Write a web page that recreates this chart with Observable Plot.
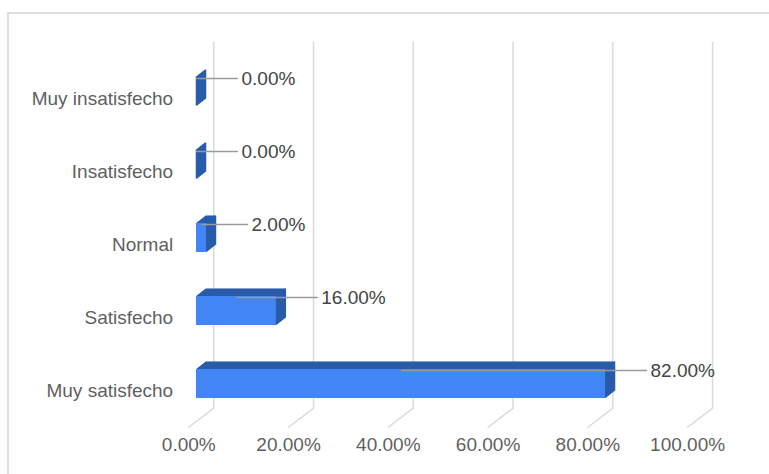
<!DOCTYPE html>
<html><head><meta charset="utf-8">
<script src="https://cdn.jsdelivr.net/npm/d3@7"></script>
<script src="https://cdn.jsdelivr.net/npm/@observablehq/plot@0.6"></script>
<style>
body{margin:0;background:#fff;}
#wrap{position:relative;width:769px;height:474px;overflow:hidden;background:#fff;}
#frame{position:absolute;left:7px;top:12px;width:800px;height:500px;border-left:2px solid #dedede;border-top:2px solid #dedede;}
#chart{position:absolute;left:0;top:0;}
</style></head><body>
<div id="wrap"><div id="frame"></div><div id="chart"></div></div>
<script>
const categories = ["Muy insatisfecho", "Insatisfecho", "Normal", "Satisfecho", "Muy satisfecho"];
const values = [0, 0, 2, 16, 82];
const valueLabels = ["0.00%", "0.00%", "2.00%", "16.00%", "82.00%"];
const tickValues = [0, 20, 40, 60, 80, 100];
const tickLabels = ["0.00%", "20.00%", "40.00%", "60.00%", "80.00%", "100.00%"];

const data = categories.map((c, i) => ({cat: c, value: values[i], label: valueLabels[i]}));
const ticks = tickValues.map((v, i) => ({v, label: tickLabels[i]}));

const frontColor = "#4285f4", darkColor = "#2a5caa", gridColor = "#dadada";
const depthX = 9.5, depthY = -7.5, steps = 19;

const extrude = [];
for (let s = steps; s >= 1; s--) {
  const dx = depthX * s / steps, dy = depthY * s / steps;
  extrude.push(Plot.barX(data, {x1: 0, x2: "value", y: "cat", fill: darkColor, dx, dy}));
  extrude.push(Plot.barX(data, {x1: "value", x2: "value", y: "cat", insetLeft: -0.75, insetRight: -0.75, fill: darkColor, dx, dy}));
}

const chart = Plot.plot({
  width: 769,
  height: 474,
  marginLeft: 196,
  marginRight: 74.2,
  marginTop: 41.7,
  marginBottom: 66.3,
  style: {background: "transparent", fontFamily: "'Liberation Sans', Arial, sans-serif"},
  x: {domain: [0, 100], axis: null},
  y: {domain: categories, range: [76.7, 398.9], paddingInner: 0.604, paddingOuter: 0, axis: null},
  marks: [
    Plot.ruleX(ticks, {x: "v", dx: 17.3, stroke: gridColor, strokeWidth: 1.5}),
    Plot.vector(ticks, {x: "v", frameAnchor: "bottom", dx: 17.3, length: 31.4, rotate: 232.7, anchor: "start", r: 0, stroke: gridColor, strokeWidth: 1.5}),
    Plot.text(ticks, {x: "v", text: "label", frameAnchor: "bottom", dx: -7.7, dy: 42.3, fontSize: 19, fill: "#5f5f5f"}),
    ...extrude,
    Plot.barX(data, {x1: 0, x2: "value", y: "cat", fill: frontColor}),
    Plot.link(data, {x1: d => d.value / 2, x2: "value", y1: "cat", y2: "cat", dy: -13.5, stroke: "#9a9a9a", strokeWidth: 1.5}),
    Plot.vector(data, {x: "value", y: "cat", dy: -13.5, length: 41, rotate: 90, anchor: "start", r: 0, stroke: "#9a9a9a", strokeWidth: 1.5}),
    Plot.text(data, {x: "value", y: "cat", text: "label", textAnchor: "start", dx: 45, dy: -13, fontSize: 19, fill: "#444"}),
    Plot.text(data, {y: "cat", text: "cat", frameAnchor: "left", textAnchor: "end", dx: -23.3, dy: 7.3, fontSize: 19, fill: "#5f5f5f"})
  ]
});
document.getElementById("chart").appendChild(chart);
</script>
</body></html>
